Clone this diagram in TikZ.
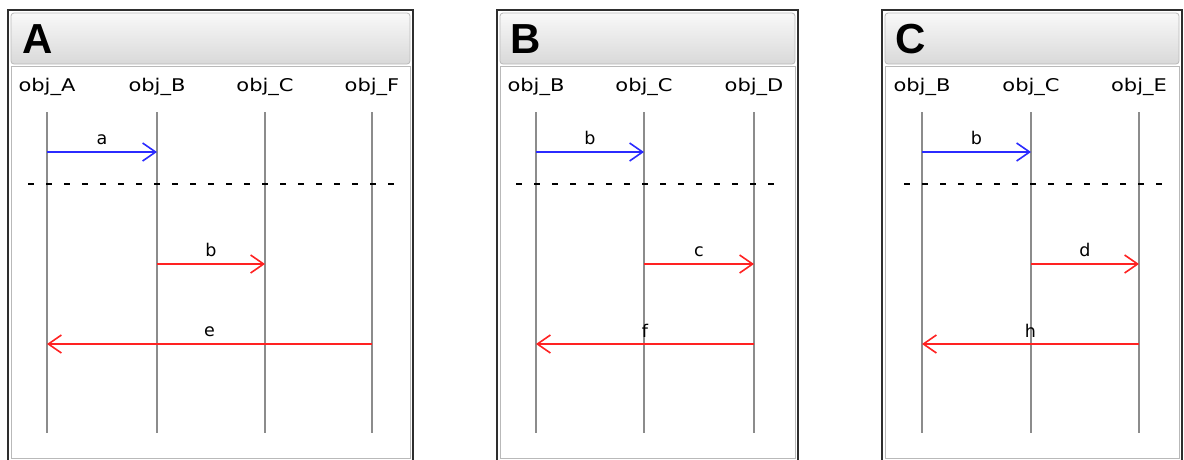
\documentclass[tikz,border=0pt]{standalone}
\usepackage{fontspec}
\setmainfont{DejaVu Sans}
\newfontfamily\headfont{Liberation Sans}
\usetikzlibrary{arrows.meta}
\definecolor{lifegray}{HTML}{8C8C8C}
\definecolor{msgred}{HTML}{FF2222}
\definecolor{msgblue}{HTML}{2B2BFF}
\definecolor{framedark}{HTML}{2E2E2E}
\newcommand{\oname}[1]{\scalebox{1.2}[1]{obj\_#1}}
\tikzset{
	panel/.style = {draw=framedark, line width=2.4pt, fill=white},% outer frame
	paneledge/.style = {draw=gray!55, line width=1pt},% inner frame
	header/.style = {draw=gray!55, rounded corners=3pt, line width=0.8pt,
		top color=gray!5, bottom color=gray!30},
	headtxt/.style = {font=\headfont\bfseries\fontsize{42}{42}\selectfont,
		inner sep=0pt, anchor=base west},
	objname/.style = {font=\fontsize{17.5}{20}\selectfont, inner sep=0pt},
	lifeline/.style = {draw=lifegray, line width=1.7pt},
	divider/.style = {draw=black, line width=1.4pt, dash pattern=on 6pt off 12pt},
	msg/.style = {line width=1.7pt,
		-{Straight Barb[length=13pt, width=18pt, line width=1.6pt]}},
	msg_b/.style = {msg, draw=msgblue},% message before the divider
	msg_r/.style = {msg, draw=msgred},% message after the divider
	msglbl/.style = {font=\fontsize{17.5}{20}\selectfont, text=black,
		inner sep=0pt, above=6pt, midway}
}

\begin{document}
\begin{tikzpicture}[x=1pt,y=-1pt]
	\useasboundingbox (0,0) rectangle (1184,459);
	\coordinate (lltop) at (0,112);
	\coordinate (m1) at (0,152);
	\coordinate (m2) at (0,264);
	\coordinate (m3) at (0,344);

	% panel A
	\draw[panel] (8,10) rectangle (413,462);
	\draw[paneledge] (11,66) -- (410,66) -- (410,458) -- (11,458) -- cycle;
	\draw[header] (11,13) rectangle (410,64);
	\node[headtxt] (hA) at (22,53) {A};
	\node[objname] (A1) at (47,87) {\oname{A}};
	\node[objname] (A2) at (157,87) {\oname{B}};
	\node[objname] (A3) at (265,87) {\oname{C}};
	\node[objname] (A4) at (372,87) {\oname{F}};
	\coordinate (A1e) at (47,433);
	\coordinate (A2e) at (157,433);
	\coordinate (A3e) at (265,433);
	\coordinate (A4e) at (372,433);
	\draw[lifeline] (A1 |- lltop) -- (A1e);
	\draw[lifeline] (A2 |- lltop) -- (A2e);
	\draw[lifeline] (A3 |- lltop) -- (A3e);
	\draw[lifeline] (A4 |- lltop) -- (A4e);
	\draw[divider] (28,184) -- (397,184);
	\draw[msg_b] (A1 |- m1) -- node[msglbl] {a} (A2 |- m1);
	\draw[msg_r] (A2 |- m2) -- node[msglbl] {b} (A3 |- m2);
	\draw[msg_r] (A4 |- m3) -- node[msglbl] {e} (A1 |- m3);

	% panel B
	\draw[panel] (497,10) rectangle (798,462);
	\draw[paneledge] (500,66) -- (795,66) -- (795,458) -- (500,458) -- cycle;
	\draw[header] (500,13) rectangle (795,64);
	\node[headtxt] (hB) at (510,53) {B};
	\node[objname] (B1) at (536,87) {\oname{B}};
	\node[objname] (B2) at (644,87) {\oname{C}};
	\node[objname] (B3) at (754,87) {\oname{D}};
	\coordinate (B1e) at (536,433);
	\coordinate (B2e) at (644,433);
	\coordinate (B3e) at (754,433);
	\draw[lifeline] (B1 |- lltop) -- (B1e);
	\draw[lifeline] (B2 |- lltop) -- (B2e);
	\draw[lifeline] (B3 |- lltop) -- (B3e);
	\draw[divider] (516,184) -- (777,184);
	\draw[msg_b] (B1 |- m1) -- node[msglbl] {b} (B2 |- m1);
	\draw[msg_r] (B2 |- m2) -- node[msglbl] {c} (B3 |- m2);
	\draw[msg_r] (B3 |- m3) -- node[msglbl] {f} (B1 |- m3);

	% panel C
	\draw[panel] (882,10) rectangle (1182,462);
	\draw[paneledge] (885,66) -- (1179,66) -- (1179,458) -- (885,458) -- cycle;
	\draw[header] (885,13) rectangle (1179,64);
	\node[headtxt] (hC) at (895,53) {C};
	\node[objname] (C1) at (922,87) {\oname{B}};
	\node[objname] (C2) at (1031,87) {\oname{C}};
	\node[objname] (C3) at (1139,87) {\oname{E}};
	\coordinate (C1e) at (922,433);
	\coordinate (C2e) at (1031,433);
	\coordinate (C3e) at (1139,433);
	\draw[lifeline] (C1 |- lltop) -- (C1e);
	\draw[lifeline] (C2 |- lltop) -- (C2e);
	\draw[lifeline] (C3 |- lltop) -- (C3e);
	\draw[divider] (904,184) -- (1162,184);
	\draw[msg_b] (C1 |- m1) -- node[msglbl] {b} (C2 |- m1);
	\draw[msg_r] (C2 |- m2) -- node[msglbl] {d} (C3 |- m2);
	\draw[msg_r] (C3 |- m3) -- node[msglbl] {h} (C1 |- m3);
\end{tikzpicture}
\end{document}
